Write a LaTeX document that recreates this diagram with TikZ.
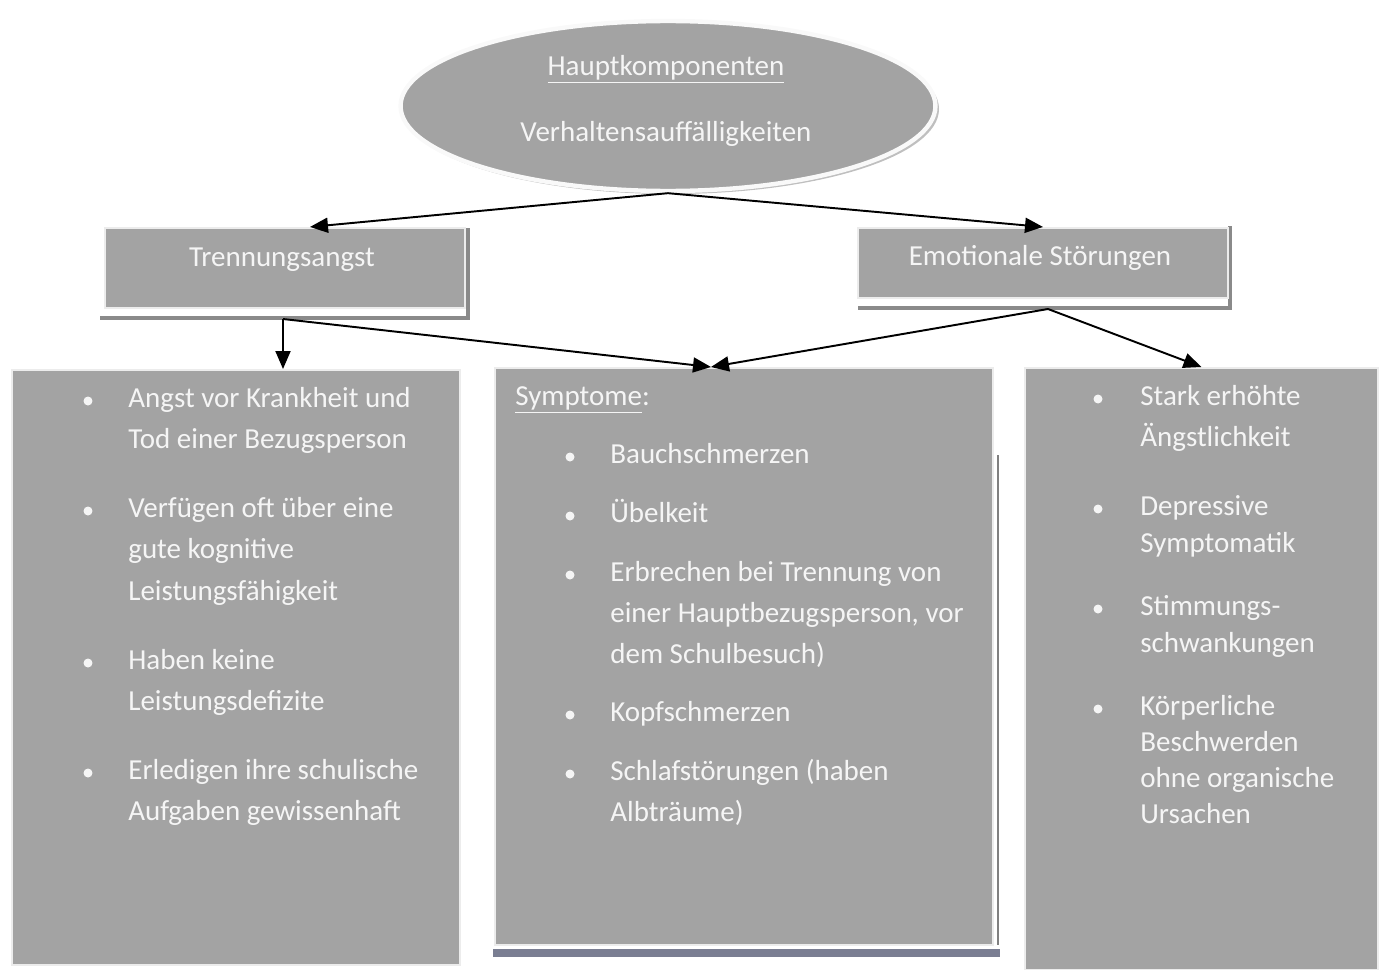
\documentclass[tikz,border=0pt]{standalone}
\usepackage{fontspec}
\setmainfont{Carlito}
\usetikzlibrary{arrows.meta,shapes.geometric}
\definecolor{kastengrau}{RGB}{163,163,163}
\definecolor{schriftweiss}{RGB}{245,245,245}
\definecolor{schattengrau}{RGB}{138,138,138}
\definecolor{bandgrau}{RGB}{122,126,146}
\tikzset{
  kasten/.style={draw=white!85!gray, line width=1.2pt, fill=kastengrau, inner sep=0pt},
  txt/.style={text=schriftweiss, inner sep=0pt, anchor=base west, font=\fontsize{16.5}{20}\selectfont},
  titel/.style={txt, anchor=base},
  punkt/.style={circle, fill=schriftweiss, inner sep=0pt, minimum size=0.18cm},
  pfeil/.style={-{Triangle[length=0.36cm,width=0.3cm]}, line width=1.1pt},
  schatten/.style={draw=schattengrau, line width=2.5pt}
}
\begin{document}
\begin{tikzpicture}[x=0.02cm,y=-0.02cm]
\useasboundingbox (0,0) rectangle (1390,970);
% Ellipse oben
\fill [schattengrau!55] (671,109) ellipse (268 and 85);
\node [ellipse, kasten, line width=2.5pt, draw=white!95!gray, minimum width=10.7cm, minimum height=3.4cm] (haupt) at (668,106) {};
\node [titel] (hauptT) at (666,75) {\underline{Hauptkomponenten}};
\node [titel] (hauptV) at (666,141) {Verhaltensauffälligkeiten};
% Schatten der Kaesten
\draw [schatten] (100,318) -- (468,318) -- (468,228);
\draw [schatten] (858,308) -- (1230,308) -- (1230,226);
\draw [schatten, line width=5pt, draw=bandgrau] (493,953) -- (1000,953);
\draw [schatten, line width=0.6pt, draw=gray] (998,455) -- (998,945);
% Kaesten
\node [kasten, minimum width=7.2cm, minimum height=1.6cm] (trennung) at (285,268) {};
\node [titel] (trennungT) at (282,266) {Trennungsangst};
\node [kasten, minimum width=7.4cm, minimum height=1.4cm] (emotion) at (1043,263) {};
\node [titel] (emotionT) at (1040,265) {Emotionale Störungen};
\node [kasten, minimum width=8.96cm, minimum height=11.9cm] (links) at (236,667.5) {};
\node [kasten, minimum width=9.96cm, minimum height=11.54cm] (mitte) at (744,656.5) {};
\node [kasten, minimum width=7.06cm, minimum height=12.04cm] (rechts) at (1201.5,669) {};
% Verbindungen
\coordinate (tA) at (283,319);
\coordinate (eA) at (1048,309);
\coordinate (mZiel) at (711,367);
\draw [pfeil] (haupt.south) -- ([xshift=0.5cm]trennung.north);
\draw [pfeil] (haupt.south) -- (emotion.north);
\draw [pfeil] (tA) -- (tA |- links.north);
\draw [pfeil] (tA) -- (mZiel);
\draw [pfeil] (eA) -- (mZiel);
\draw [pfeil] (eA) -- (rechts.north);
% Texte links
\foreach \y in {401,511,663,773}
  \node [punkt] (lp\y) at (88,\y) {};
\foreach \y/\t in {407/Angst vor Krankheit und, 448/Tod einer Bezugsperson,
  517/Verfügen oft über eine, 558/gute kognitive, 600/Leistungsfähigkeit,
  669/Haben keine, 710/Leistungsdefizite,
  779/Erledigen ihre schulische, 820/Aufgaben gewissenhaft}
  \node [txt] (l\y) at (128,\y) {\t};
% Texte Mitte
\node [txt] (mS) at (515,405) {\underline{Symptome}:};
\foreach \y in {457,516,575,715,774}
  \node [punkt] (mp\y) at (570,\y) {};
\foreach \y/\t in {463/Bauchschmerzen, 522/Übelkeit,
  581/Erbrechen bei Trennung von, 622/{einer Hauptbezugsperson, vor}, 663/dem Schulbesuch),
  721/Kopfschmerzen, 780/Schlafstörungen (haben, 821/Albträume)}
  \node [txt] (m\y) at (610,\y) {\t};
% Texte rechts
\foreach \y in {399,509,609,709}
  \node [punkt] (rp\y) at (1098,\y) {};
\foreach \y/\t in {405/Stark erhöhte, 446/Ängstlichkeit,
  515/Depressive, 552/Symptomatik,
  615/Stimmungs-, 652/schwankungen,
  715/Körperliche, 751/Beschwerden, 787/ohne organische, 823/Ursachen}
  \node [txt] (r\y) at (1140,\y) {\t};
\end{tikzpicture}
\end{document}
